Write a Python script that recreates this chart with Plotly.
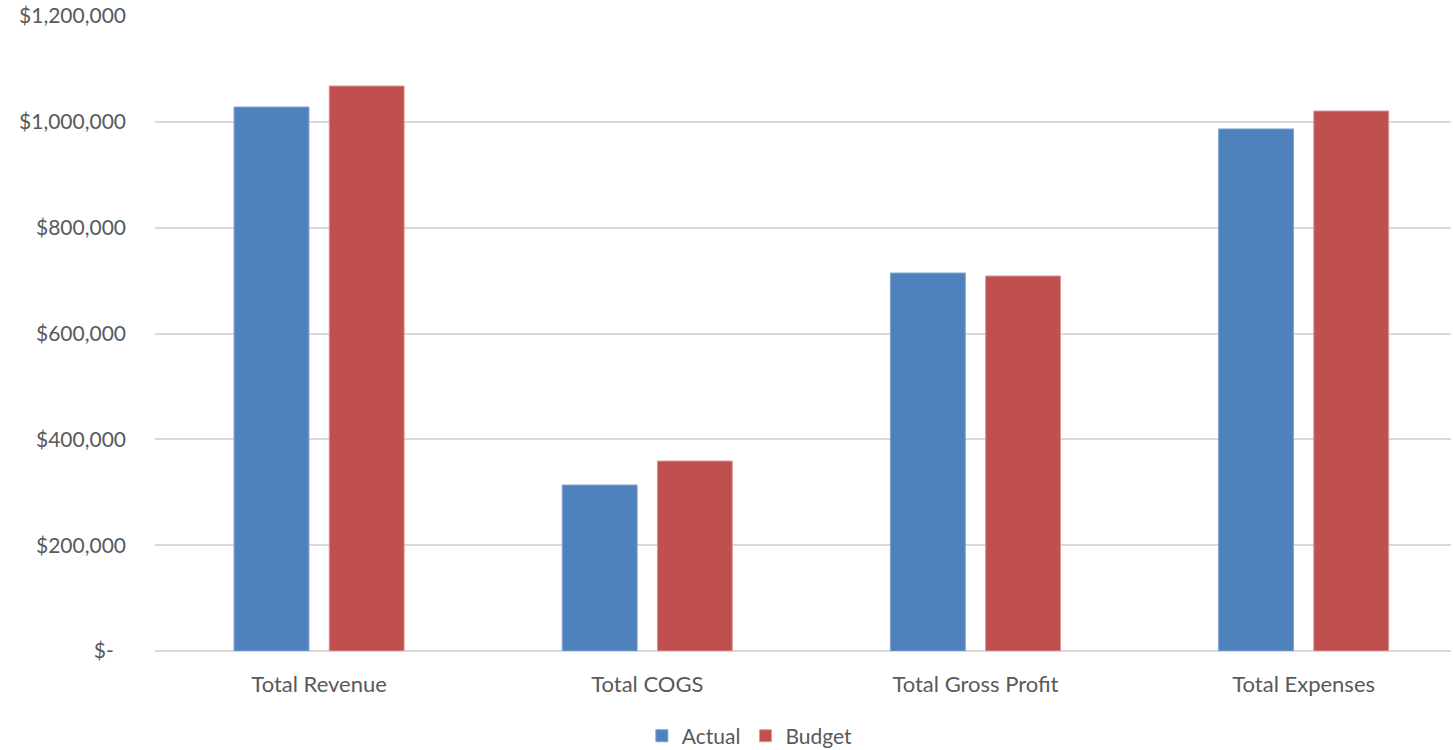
import plotly.graph_objects as go

categories = ["Total Revenue", "Total COGS", "Total Gross Profit", "Total Expenses"]
actual = [1028000, 313700, 714300, 986500]
budget = [1067700, 359000, 708700, 1020500]

tick_vals = [0, 200000, 400000, 600000, 800000, 1000000, 1200000]
tick_text = ["$-\u2007", "$200,000", "$400,000", "$600,000", "$800,000", "$1,000,000", "$1,200,000"]

font_family = "Lato, 'Open Sans', sans-serif"
text_color = "#595959"
font_size = 21

fig = go.Figure()
fig.add_trace(go.Bar(name="Actual", x=categories, y=actual,
                     marker=dict(color="#4F81BD", line=dict(color="#7FA3D0", width=1))))
fig.add_trace(go.Bar(name="Budget", x=categories, y=budget,
                     marker=dict(color="#C0504D", line=dict(color="#D99A98", width=1))))

fig.update_layout(
    width=1453, height=750,
    margin=dict(l=155, r=2, t=16, b=99, autoexpand=False),
    paper_bgcolor="white", plot_bgcolor="white",
    barmode="group", bargap=0.42, bargroupgap=0.213,
    font=dict(family=font_family, size=font_size, color=text_color),
    showlegend=True,
    legend=dict(orientation="h", x=0.459, xanchor="center", y=-0.134, yanchor="middle",
                font=dict(size=font_size, color=text_color), traceorder="normal"),
    xaxis=dict(showgrid=False, showline=False, zeroline=False, ticks="",
               range=[-0.5, 3.449], ticklabelstandoff=18,
               tickfont=dict(size=22, color=text_color)),
    yaxis=dict(range=[0, 1200000], tickvals=tick_vals, ticktext=tick_text,
               showgrid=True, gridcolor="#D9D9D9", gridwidth=1.5,
               zeroline=True, zerolinecolor="#D9D9D9", zerolinewidth=1.5,
               showline=False, ticks="", ticklabelstandoff=28,
               tickfont=dict(size=font_size, color=text_color)),
)

fig.write_html("out.html")
